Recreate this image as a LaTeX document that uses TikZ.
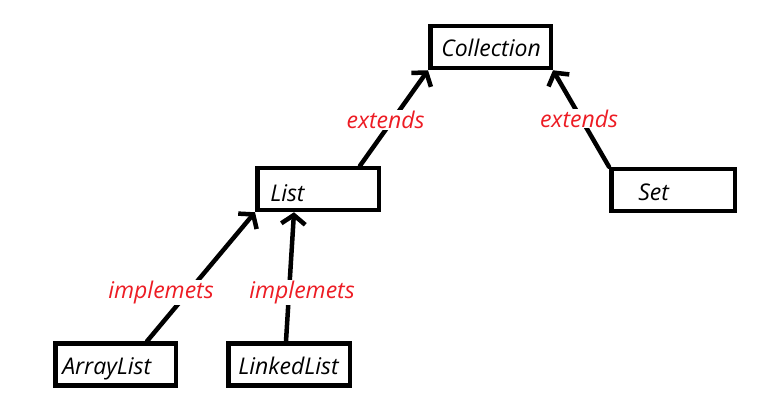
\documentclass[tikz,border=0pt]{standalone}
\usepackage{fontspec}
\setmainfont{Open Sans}
\usetikzlibrary{arrows.meta}
\definecolor{paintred}{RGB}{237,28,36}
\begin{document}
\begin{tikzpicture}[x=1pt,y=-1pt, line join=round, line cap=round,font=\fontsize{23}{26}\selectfont\itshape,>={Straight Barb[length=9pt,width=24pt]},
	cls/.style={draw,line width=4.5pt,line join=miter,line cap=butt,inner xsep=0pt,inner ysep=0pt,align=left,minimum height=42pt,text height=20pt,text depth=0pt},
	rel/.style={line width=4.5pt},
	lbl/.style={text=paintred,fill=white,inner sep=1pt}]
	\useasboundingbox (0,0) rectangle (782,412);
	\node[cls,text width=120.5pt] (coll) at (490.5,47) {\hspace*{11pt}Collection};
	\node[cls,text width=121.5pt,text height=25pt] (list) at (318,189) {\hspace*{13pt}List};
	\node[cls,text width=123.5pt] (set) at (673,190) {\hspace*{27pt}Set};
	\node[cls,text width=120.5pt] (alist) at (115.5,364.5) {\hspace*{7pt}ArrayList};
	\node[cls,text width=121.5pt] (llist) at (289,364.5) {\hspace*{10pt}LinkedList};
	\draw[rel,->] ([xshift=42pt]list.north)--node[lbl,pos=0.48,xshift=-7pt]{extends}(coll.south west);
	\draw[rel,->] (set.north west)--node[lbl,pos=0.5,xshift=-2pt]{extends}(coll.south east);
	\draw[rel,->] ([xshift=31.5pt]alist.north)--node[lbl,pos=0.38,xshift=-27pt]{implemets}(list.south west);
	\draw[rel,->] ([xshift=-3pt]llist.north)--node[lbl,pos=0.38,xshift=13pt]{implemets}([xshift=-24pt]list.south);
\end{tikzpicture}
\end{document}
